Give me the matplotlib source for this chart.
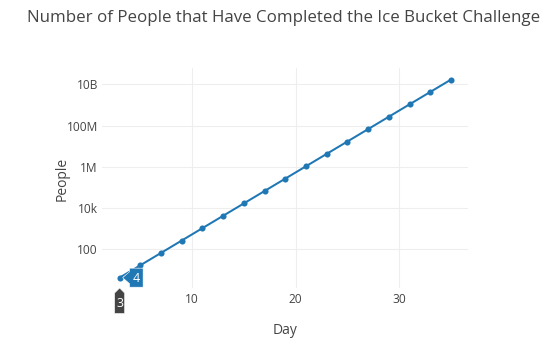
import matplotlib
matplotlib.use("Agg")
import matplotlib.pyplot as plt
import matplotlib.transforms as mtransforms
from matplotlib.patches import Polygon
from matplotlib.ticker import FixedLocator, FixedFormatter, NullLocator

# Data
days = [3, 5, 7, 9, 11, 13, 15, 17, 19, 21, 23, 25, 27, 29, 31, 33, 35]
people = [4, 16, 64, 256, 1024, 4096, 16384, 65536, 262144, 1048576,
          4194304, 16777216, 67108864, 268435456, 1073741824,
          4294967296, 17179869184]
y_ticks = [1e2, 1e4, 1e6, 1e8, 1e10]
y_tick_labels = ["100", "10k", "1M", "100M", "10B"]
x_ticks = [10, 20, 30]
x_tick_labels = ["10", "20", "30"]
hover_index = 0

title = "Number of People that Have Completed the Ice Bucket Challenge"
x_title = "Day"
y_title = "People"

LINE = "#1f77b4"
TEXT = "#444444"
GRID = "#eeeeee"

plt.rcParams["font.family"] = ["Open Sans", "DejaVu Sans"]

W, H, DPI = 560, 345, 100
fig = plt.figure(figsize=(W / DPI, H / DPI), dpi=DPI)
fig.patch.set_facecolor("white")

left, right, top, bottom = 102, 468, 68, 288
ax = fig.add_axes([left / W, 1 - bottom / H, (right - left) / W, (bottom - top) / H])
ax.set_facecolor("white")

ax.plot(days, people, color=LINE, lw=1.45, marker="o", markersize=4.4,
        markeredgewidth=0, zorder=3, clip_on=False)

ax.set_yscale("log")
ax.set_xlim(1.3, 36.65)
ax.set_ylim(10 ** 0.1, 10 ** 10.8)

ax.xaxis.set_major_locator(FixedLocator(x_ticks))
ax.xaxis.set_major_formatter(FixedFormatter(x_tick_labels))
ax.yaxis.set_major_locator(FixedLocator(y_ticks))
ax.yaxis.set_major_formatter(FixedFormatter(y_tick_labels))
ax.xaxis.set_minor_locator(NullLocator())
ax.yaxis.set_minor_locator(NullLocator())

ax.tick_params(axis="both", length=0, labelsize=8.6, labelcolor=TEXT)
ax.tick_params(axis="x", pad=3.5)
ax.tick_params(axis="y", pad=3)
ax.grid(True, color=GRID, lw=0.8)
ax.set_axisbelow(True)
for s in ax.spines.values():
    s.set_visible(False)

fig.text(0.506, 1 - 18 / H, title, ha="center", va="center",
         fontsize=12.2, color=TEXT)
fig.text(285 / W, 1 - 331 / H, x_title, ha="center", va="center",
         fontsize=10, color=TEXT)
fig.text(62 / W, 1 - 179 / H, y_title, ha="center", va="center",
         fontsize=10, color=TEXT, rotation=90)

# Hover labels: shapes defined in pixel offsets from an anchor point
px = mtransforms.Affine2D().scale(1.0, -1.0)
def anchored(xd, yd, trans_anchor):
    return px + mtransforms.ScaledTranslation(xd, yd, trans_anchor)

hx, hy = days[hover_index], people[hover_index]

# value label to the right of the point
tv = anchored(hx, hy, ax.transData)
value_shape = [(3, 0), (10, -6), (10, -9.5), (23.5, -9.5), (23.5, 9.5),
               (10, 9.5), (10, 6)]
fig.patches.append(Polygon(value_shape, closed=True, transform=tv,
                           facecolor=LINE, edgecolor="white", lw=0.4,
                           zorder=10))
fig.text(16.8, 0.5, f"{hy:g}", transform=tv, ha="center", va="center",
         fontsize=9, color="white", zorder=11)

# day label below the x axis
tx = anchored(hx, 0, ax.get_xaxis_transform())
day_shape = [(0, 0), (5, 5), (5, 25.5), (-5, 25.5), (-5, 5)]
fig.patches.append(Polygon(day_shape, closed=True, transform=tx,
                           facecolor=TEXT, edgecolor="white", lw=0.4,
                           zorder=10))
fig.text(0, 15.5, f"{hx:g}", transform=tx, ha="center", va="center",
         fontsize=9, color="white", zorder=11)

fig.savefig("out.png", dpi=DPI, facecolor="white")
